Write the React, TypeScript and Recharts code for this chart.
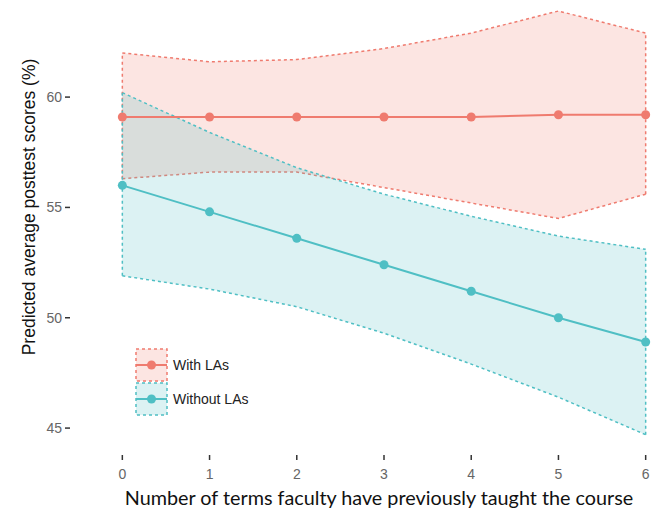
import { ComposedChart, Area, Line, XAxis, YAxis, ReferenceLine, Label } from 'recharts';

const terms = [0, 1, 2, 3, 4, 5, 6];
const withLAs = [59.1, 59.1, 59.1, 59.1, 59.1, 59.2, 59.2];
const withLAsUpper = [62.0, 61.6, 61.7, 62.2, 62.9, 63.9, 62.9];
const withLAsLower = [56.3, 56.6, 56.6, 55.9, 55.2, 54.5, 55.6];
const withoutLAs = [56.0, 54.8, 53.6, 52.4, 51.2, 50.0, 48.9];
const withoutLAsUpper = [60.2, 58.4, 56.8, 55.6, 54.6, 53.7, 53.1];
const withoutLAsLower = [51.9, 51.3, 50.5, 49.3, 47.9, 46.4, 44.7];
const yTicks = [45, 50, 55, 60];

const RED = '#ef7b6f';
const BLUE = '#4fbfc4';

const data = terms.map((t, i) => ({
  x: t,
  with: withLAs[i],
  without: withoutLAs[i],
  withBand: [withLAsLower[i], withLAsUpper[i]],
  withoutBand: [withoutLAsLower[i], withoutLAsUpper[i]],
}));

const last = terms.length - 1;

function LegendKey({ color }: { color: string }) {
  return (
    <svg width={33} height={34} style={{ display: 'block' }}>
      <rect x={1} y={1} width={31} height={32} fill={color} fillOpacity={0.2} stroke={color} strokeWidth={1.5} strokeDasharray="3 3" />
      <line x1={1} x2={32} y1={17} y2={17} stroke={color} strokeWidth={2} />
      <circle cx={16.5} cy={17} r={4.5} fill={color} />
    </svg>
  );
}

function ChartLegend() {
  const items = [
    { label: 'With LAs', color: RED },
    { label: 'Without LAs', color: BLUE },
  ];
  return (
    <div
      style={{
        position: 'absolute',
        left: 135,
        top: 348,
        fontFamily: 'Liberation Sans, Arial, sans-serif',
        fontSize: 14,
        color: '#222',
      }}
    >
      {items.map((it) => (
        <div key={it.label} style={{ display: 'flex', alignItems: 'center' }}>
          <LegendKey color={it.color} />
          <span style={{ marginLeft: 5 }}>{it.label}</span>
        </div>
      ))}
    </div>
  );
}

export default function App() {
  const tickStyle = { fontSize: 14, fill: '#666', fontFamily: 'Liberation Sans, Arial, sans-serif' };
  return (
    <div style={{ position: 'absolute', left: 0, top: 0, width: 667, height: 510, overflow: 'hidden', background: '#fff' }}>
      <ComposedChart width={700} height={510} data={data} margin={{ top: 0, right: 2, bottom: 0, left: 0 }}>
        <XAxis
          type="number"
          dataKey="x"
          domain={[-0.6, 6.6]}
          ticks={terms}
          axisLine={false}
          tickLine={{ stroke: '#333', strokeWidth: 1.5 }}
          tickSize={5}
          tickMargin={9}
          height={55}
          tick={tickStyle}
          allowDataOverflow
        >
          <Label
            content={() => (
              <text x={379} y={505} textAnchor="middle" fontFamily="Lato, sans-serif" fontSize={19.8} fill="#111">
                Number of terms faculty have previously taught the course
              </text>
            )}
          />
        </XAxis>
        <YAxis
          type="number"
          domain={[43.78, 64.4]}
          ticks={yTicks}
          axisLine={false}
          tickLine={{ stroke: '#333', strokeWidth: 1.5 }}
          tickSize={5}
          tickMargin={3}
          width={70}
          tick={tickStyle}
          allowDataOverflow
        >
          <Label
            content={() => (
              <text
                x={29}
                y={207}
                transform="rotate(-90 29 207)"
                textAnchor="middle"
                dominantBaseline="central"
                fontFamily="Liberation Sans, Arial, sans-serif"
                fontSize={17.5}
                fill="#111"
              >
                Predicted average posttest scores (%)
              </text>
            )}
          />
        </YAxis>
        <Area
          type="linear"
          dataKey="withBand"
          fill={RED}
          fillOpacity={0.2}
          stroke={RED}
          strokeWidth={1.5}
          strokeDasharray="3 3"
          isAnimationActive={false}
          activeDot={false}
        />
        <Area
          type="linear"
          dataKey="withoutBand"
          fill={BLUE}
          fillOpacity={0.2}
          stroke={BLUE}
          strokeWidth={1.5}
          strokeDasharray="3 3"
          isAnimationActive={false}
          activeDot={false}
        />
        <ReferenceLine
          segment={[{ x: terms[0], y: withLAsLower[0] }, { x: terms[0], y: withLAsUpper[0] }]}
          stroke={RED}
          strokeWidth={1.5}
          strokeDasharray="3 3"
        />
        <ReferenceLine
          segment={[{ x: terms[last], y: withLAsLower[last] }, { x: terms[last], y: withLAsUpper[last] }]}
          stroke={RED}
          strokeWidth={1.5}
          strokeDasharray="3 3"
        />
        <ReferenceLine
          segment={[{ x: terms[0], y: withoutLAsLower[0] }, { x: terms[0], y: withoutLAsUpper[0] }]}
          stroke={BLUE}
          strokeWidth={1.5}
          strokeDasharray="3 3"
        />
        <ReferenceLine
          segment={[{ x: terms[last], y: withoutLAsLower[last] }, { x: terms[last], y: withoutLAsUpper[last] }]}
          stroke={BLUE}
          strokeWidth={1.5}
          strokeDasharray="3 3"
        />
        <Line
          type="linear"
          dataKey="with"
          stroke={RED}
          strokeWidth={2}
          dot={{ r: 4.5, fill: RED, stroke: RED, strokeWidth: 0 }}
          isAnimationActive={false}
        />
        <Line
          type="linear"
          dataKey="without"
          stroke={BLUE}
          strokeWidth={2}
          dot={{ r: 4.5, fill: BLUE, stroke: BLUE, strokeWidth: 0 }}
          isAnimationActive={false}
        />
      </ComposedChart>
      <ChartLegend />
    </div>
  );
}
